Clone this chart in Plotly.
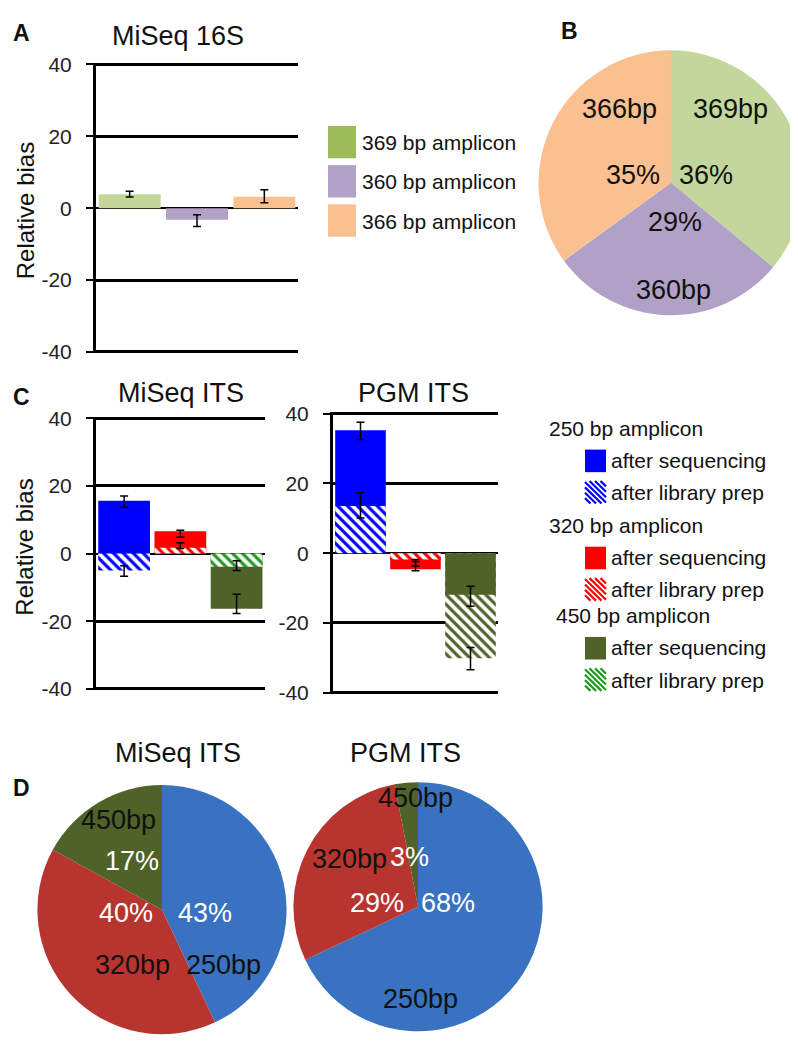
import plotly.graph_objects as go

W, H = 798, 1048
FONT = "Liberation Sans, Arial, sans-serif"

# ---------------- data ----------------
# Panel A: MiSeq 16S relative bias
a_names = ["369 bp amplicon", "360 bp amplicon", "366 bp amplicon"]
a_bias = [3.9, -3.2, 3.2]
a_err_plus = [0.8, 1.4, 1.9]
a_err_minus = [0.8, 1.9, 1.7]

# Panel B: MiSeq 16S read share (%)
b_labels = ["369bp", "360bp", "366bp"]
b_share = [36, 29, 35]

# Panel C: ITS relative bias
c_amplicons = ["250 bp amplicon", "320 bp amplicon", "450 bp amplicon"]
miseq_seq = [15.6, 6.6, -16.3]
miseq_seq_plus = [1.4, 0.3, 4.3]
miseq_seq_minus = [1.9, 1.8, 1.4]
miseq_lib = [-5.0, 1.7, -3.9]
miseq_lib_plus = [1.4, 1.5, 1.8]
miseq_lib_minus = [1.7, 0.2, 1.1]
pgm_seq = [35.2, -4.6, -11.9]
pgm_seq_plus = [2.3, 2.2, 2.4]
pgm_seq_minus = [2.6, 0.4, 3.3]
pgm_lib = [13.5, -1.8, -30.1]
pgm_lib_plus = [3.9, 0.0, 3.1]
pgm_lib_minus = [3.4, 1.9, 3.3]

# Panel D: ITS read share (%)
d_labels = ["250bp", "320bp", "450bp"]
d_miseq_share = [43, 40, 17]
d_pgm_share = [68, 29, 3]

# y ticks
y_tickvals = [-40, -20, 0, 20, 40]
y_ticktext = ["-40", "-20", "0", "20", "40"]

# ---------------- styles ----------------
a_bar_colors = ["#c4d79b", "#b3a2c7", "#fac090"]
a_legend_colors = ["#9bbb59", "#b3a2c7", "#fac090"]
b_colors = ["#c3d69b", "#b2a1c7", "#fac090"]
seq_colors = ["#0000ff", "#ff0000", "#4f6228"]
miseq_lib_colors = ["#0000ff", "#ff0000", "#1f9a1f"]
pgm_lib_colors = ["#0000ff", "#ff0000", "#4f6228"]
d_colors = ["#3872c0", "#b8342f", "#4f6228"]


def px(x):
    return x / W


def py(y):
    return 1 - y / H


fig = go.Figure()

ERR = dict(type="data", symmetric=False, color="black", thickness=1.5, width=4)

# ---- Panel A bars ----
for i, name in enumerate(a_names):
    fig.add_trace(go.Bar(
        x=[i], y=[a_bias[i]], width=0.92,
        marker=dict(color=a_bar_colors[i], line=dict(width=0)),
        error_y=dict(ERR, array=[a_err_plus[i]], arrayminus=[a_err_minus[i]]),
        xaxis="x", yaxis="y", showlegend=False, name=name,
    ))


# ---- Panel C bars ----
def add_group(seq, seq_p, seq_m, lib, lib_p, lib_m, lib_cols, xa, ya):
    for i in range(len(c_amplicons)):
        bars = [
            dict(v=seq[i], p=seq_p[i], m=seq_m[i], hatch=False, col=seq_colors[i]),
            dict(v=lib[i], p=lib_p[i], m=lib_m[i], hatch=True, col=lib_cols[i]),
        ]
        bars.sort(key=lambda b: -abs(b["v"]))  # larger bar behind
        for b in bars:
            if b["hatch"]:
                marker = dict(color="white", line=dict(width=0),
                              pattern=dict(shape="\\", fgcolor=b["col"], bgcolor="white",
                                           size=7, solidity=0.45, fillmode="replace"))
            else:
                marker = dict(color=b["col"], line=dict(width=0))
            fig.add_trace(go.Bar(
                x=[i], y=[b["v"]], width=0.92, marker=marker,
                error_y=dict(ERR, array=[b["p"]], arrayminus=[b["m"]]),
                xaxis=xa, yaxis=ya, showlegend=False,
            ))


add_group(miseq_seq, miseq_seq_plus, miseq_seq_minus,
          miseq_lib, miseq_lib_plus, miseq_lib_minus, miseq_lib_colors, "x2", "y2")
add_group(pgm_seq, pgm_seq_plus, pgm_seq_minus,
          pgm_lib, pgm_lib_plus, pgm_lib_minus, pgm_lib_colors, "x3", "y3")

# ---- Pies ----
fig.add_trace(go.Pie(
    labels=b_labels, values=b_share, sort=False, direction="clockwise", rotation=0,
    marker=dict(colors=b_colors, line=dict(width=0)), textinfo="none",
    domain=dict(x=[px(528), px(798)], y=[py(303), py(33)]), showlegend=False,
))
fig.add_trace(go.Pie(
    labels=d_labels, values=d_miseq_share, sort=False, direction="clockwise", rotation=0,
    marker=dict(colors=d_colors, line=dict(width=0)), textinfo="none",
    domain=dict(x=[px(27), px(281)], y=[py(1036), py(782)]), showlegend=False,
))
fig.add_trace(go.Pie(
    labels=d_labels, values=d_pgm_share, sort=False, direction="clockwise", rotation=0,
    marker=dict(colors=d_colors, line=dict(width=0)), textinfo="none",
    domain=dict(x=[px(283), px(537)], y=[py(1033), py(779)]), showlegend=False,
))

# ---- axes ----
PAD = 0.4  # small extra range so the +-40 gridlines are kept


def yax(top40, bot40):
    s = (bot40 - top40) / 80.0
    return dict(
        domain=[py(bot40 + PAD * s), py(top40 - PAD * s)],
        range=[-40 - PAD, 40 + PAD], tickvals=y_tickvals, ticktext=y_ticktext,
        showgrid=True, gridcolor="black", gridwidth=3,
        zeroline=True, zerolinecolor="black", zerolinewidth=2,
        showline=True, linecolor="black", linewidth=3,
        ticks="outside", ticklen=7, tickwidth=2, tickcolor="black",
        tickfont=dict(size=21, color="#222", family=FONT), ticklabelstandoff=10,
        fixedrange=True,
    )


def xax(domain, anchor):
    return dict(domain=domain, range=[-0.5, 2.5], visible=False, anchor=anchor, fixedrange=True)


annotations = []


def text(x, y, s, size, color="#111", bold=False, xanchor="center", angle=0):
    annotations.append(dict(
        x=px(x), y=py(y), xref="paper", yref="paper", text=("<b>%s</b>" % s) if bold else s,
        showarrow=False, xanchor=xanchor, yanchor="middle", textangle=angle,
        font=dict(size=size, color=color, family=FONT),
    ))


# panel letters and titles
text(13, 15, "A", 23, bold=True)
text(561, 13, "B", 23, bold=True)
text(13, 386, "C", 23, bold=True)
text(13, 785, "D", 23, bold=True)
text(170, 18, "MiSeq 16S", 27)
text(173, 382, "MiSeq ITS", 27)
text(405, 382, "PGM ITS", 27)
text(170, 749, "MiSeq ITS", 27)
text(397, 749, "PGM ITS", 27)
text(17, 197, "Relative bias", 24, angle=-90)
text(17, 540, "Relative bias", 24, angle=-90)

# pie labels
pie_lab = 27
for s, (x, y) in zip(["369bp", "360bp", "366bp"], [(722, 93), (665, 277), (611, 93)]):
    text(x, y, s, pie_lab)
for s, (x, y) in zip(["36%", "29%", "35%"], [(698, 160), (667, 208), (625, 160)]):
    text(x, y, s, pie_lab)
for s, (x, y) in zip(d_labels, [(215, 965), (124, 965), (110, 818)]):
    text(x, y, s, pie_lab)
for v, (x, y) in zip(d_miseq_share, [(197, 912), (118, 912), (124, 859)]):
    text(x, y, "%d%%" % v, pie_lab, color="white")
for s, (x, y) in zip(d_labels, [(412, 1000), (341, 857), (407, 795)]):
    text(x, y, s, pie_lab)
for v, (x, y) in zip(d_pgm_share, [(440, 902), (369, 902), (401, 855)]):
    text(x, y, "%d%%" % v, pie_lab, color="white")

# ---- legends (drawn) ----
shapes = []


def box(x0, y0, w, h, color):
    shapes.append(dict(type="rect", xref="paper", yref="paper",
                       x0=px(x0), x1=px(x0 + w), y0=py(y0 + h), y1=py(y0),
                       fillcolor=color, line=dict(width=0)))


def hatch_box(x0, y0, w, h, color, step=5.5):
    parts = []
    c = -h
    while c < w:
        if c >= 0:
            sx, sy = x0 + c, y0
        else:
            sx, sy = x0, y0 - c
        t = min(x0 + w - sx, y0 + h - sy)
        if t > 0.5:
            parts.append("M%.5f,%.5f L%.5f,%.5f" % (px(sx), py(sy), px(sx + t), py(sy + t)))
        c += step
    shapes.append(dict(type="path", xref="paper", yref="paper", path=" ".join(parts),
                       line=dict(color=color, width=2.2)))


# Legend A
for i, name in enumerate(a_names):
    y0 = 110 + i * 40
    box(320, y0, 28, 33, a_legend_colors[i])
    text(352, y0 + 17, name, 21, xanchor="left")

# Legend C
title_rows = [418, 517, 609]
title_x = [539, 539, 546]
for i, amp in enumerate(c_amplicons):
    ty = title_rows[i]
    text(title_x[i], ty, amp, 21, xanchor="left")
    box(577, ty + 22, 21, 23, seq_colors[i])
    text(601, ty + 33, "after sequencing", 21, xanchor="left")
    hatch_box(577, ty + 54, 21, 23, miseq_lib_colors[i])
    text(601, ty + 66, "after library prep", 21, xanchor="left")

fig.update_layout(
    width=W, height=H, margin=dict(l=0, r=0, t=0, b=0),
    paper_bgcolor="white", plot_bgcolor="white",
    barmode="overlay", showlegend=False,
    font=dict(family=FONT, color="#111"),
    xaxis=xax([px(88), px(290)], "y"),
    yaxis=yax(47.3, 340.5),
    xaxis2=xax([px(88), px(256.7)], "y2"),
    yaxis2=dict(yax(408, 684), anchor="x2"),
    xaxis3=xax([px(325), px(490)], "y3"),
    yaxis3=dict(yax(403.3, 687.9), anchor="x3"),
    annotations=annotations, shapes=shapes,
)

fig.write_html("out.html")
